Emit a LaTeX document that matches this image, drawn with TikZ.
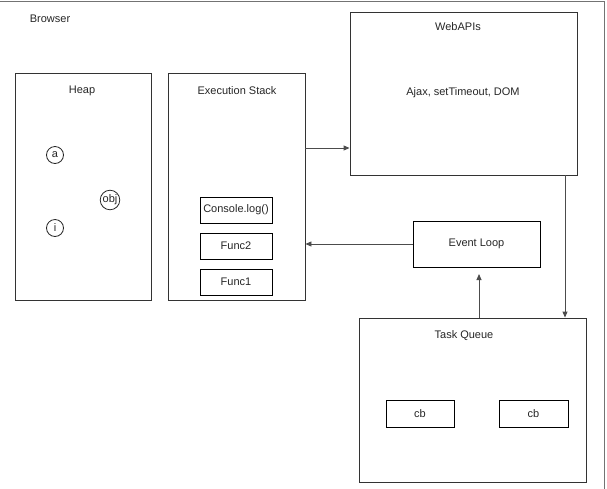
\documentclass[tikz,border=0pt]{standalone}
\usepackage{fontspec}
\setmainfont{Liberation Sans}
\usetikzlibrary{arrows.meta}
\begin{document}
\begin{tikzpicture}[x=1pt,y=-1pt,
  every node/.style={font=\fontsize{11}{13}\selectfont, text=black!85},
  panel/.style={draw=black!80, line width=0.9pt, rectangle, inner sep=0pt},
  item/.style={draw=black, line width=0.9pt, rectangle, inner sep=0pt},
  var/.style={draw=black!85, line width=0.8pt, circle, inner sep=0.6pt, minimum size=17pt},
  flow/.style={draw=black!70, line width=0.9pt, -{Triangle[length=6pt,width=5pt]}},
  caption/.style={anchor=center}]
\useasboundingbox (0,0) rectangle (607,488);
\begin{scope}
\clip (0,0) rectangle (607,488);
% outer browser frame, running past the left and bottom edges
\draw[draw=black!55, line width=1pt] (-10,1) -- (604,1) -- (604,500);
\end{scope}
\node[caption] (browser) at (50,19) {Browser};

% heap
\node[panel, minimum width=136pt, minimum height=227pt] (heap) at (83,186.5) {};
\node[caption] (heapt) at (82,91) {Heap};
\node[var] (va) at (55,155) {a};
\node[var] (vobj) at (110,200) {obj};
\node[var] (vi) at (55,228) {i};

% execution stack
\node[panel, minimum width=137pt, minimum height=227pt] (stack) at (236.5,186.5) {};
\node[caption] (stackt) at (237,91) {Execution Stack};
\node[item, minimum width=72pt, minimum height=26pt] (clog) at (236,210) {Console.log()};
\node[item, minimum width=72pt, minimum height=26pt] (f2) at (236,246) {Func2};
\node[item, minimum width=72pt, minimum height=26pt] (f1) at (236,282) {Func1};

% web apis
\node[panel, minimum width=227pt, minimum height=163pt] (web) at (463.5,93.5) {};
\node[caption] (webt) at (458,27) {WebAPIs};
\node[caption] (webb) at (463,93) {Ajax, setTimeout, DOM};

% event loop
\node[item, minimum width=127pt, minimum height=46pt] (loop) at (476.5,244) {Event Loop};
\coordinate (loopin) at (479,267);

% task queue
\node[panel, minimum width=227pt, minimum height=164pt] (queue) at (472.5,400) {};
\node[caption] (queuet) at (464,336) {Task Queue};
\node[item, minimum width=68pt, minimum height=27pt] (cb1) at (420,413.5) {cb};
\node[item, minimum width=69pt, minimum height=27pt] (cb2) at (533.5,413.5) {cb};

% connectors
\draw[flow] (stack.east |- 0,148) -- (web.west |- 0,148);
\draw[flow] (loop.west) -- (stack.east |- loop.west);
\draw[flow] (web.south -| 565,0) -- (queue.north -| 565,0);
\draw[flow, shorten >=7pt] (queue.north -| loopin) -- (loopin);
\end{tikzpicture}
\end{document}
